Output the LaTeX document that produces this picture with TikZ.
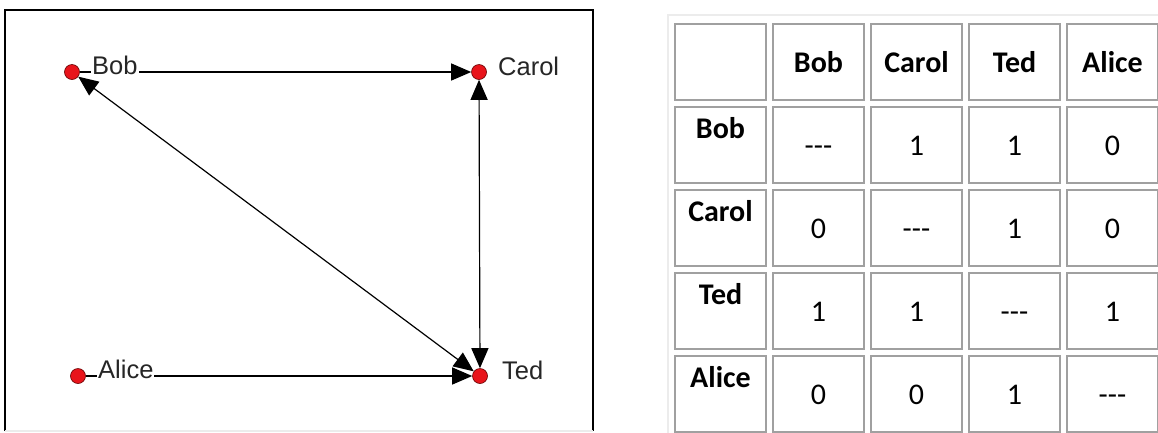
\documentclass[tikz,border=0pt]{standalone}
\usepackage{fontspec}
\setmainfont{Carlito}
\newfontfamily\arialfont{Liberation Sans}
\usetikzlibrary{arrows.meta}
\definecolor{dotred}{HTML}{E8141B}
\definecolor{cellgray}{HTML}{A0A0A0}
\definecolor{lightgray}{HTML}{ECECEC}
\begin{document}
\begin{tikzpicture}[x=1pt,y=-1pt,
  dot/.style={circle,fill=dotred,draw=black!60!red,line width=0.6pt,minimum size=15pt,inner sep=0pt},
  lbl/.style={anchor=base west,fill=white,inner sep=1pt,text=black!85,font=\arialfont\fontsize{25.5}{28}\selectfont},
  edge/.style={line width=1.2pt,-{Triangle[length=20pt,width=17pt]}},
  bedge/.style={line width=1.2pt,{Triangle[length=20pt,width=17pt]}-{Triangle[length=20pt,width=17pt]}},
  cell/.style={draw=cellgray,line width=2pt,minimum width=91pt,minimum height=76pt,inner sep=0pt,anchor=north west},
  hdr/.style={font=\bfseries\fontsize{30}{34}\selectfont},
  val/.style={font=\fontsize{30}{34}\selectfont}
]
\useasboundingbox (0,0) rectangle (1158,432);
\fill[white] (0,0) rectangle (1158,432);
% left frame
\draw[black,line width=2pt] (5,431) -- (5,10) -- (593,10) -- (593,431);
\draw[lightgray,line width=1.5pt] (5,431) -- (593,431);
% graph nodes
\node[dot] (bob) at (72,72) {};
\node[dot] (carol) at (479,72) {};
\node[dot] (alice) at (78,376) {};
\node[dot] (ted) at (480,376) {};
% edges
\draw[edge] (bob) -- (carol);
\draw[bedge] (carol) -- (ted);
\draw[bedge] (bob) -- (ted);
\draw[edge] (alice) -- (ted);
% labels
\node[lbl] (lbob) at (91,74) {Bob};
\node[lbl] (lcarol) at (497,75) {Carol};
\node[lbl] (lalice) at (97,378) {Alice};
\node[lbl] (lted) at (501,379) {Ted};
% table outer border
\draw[lightgray,line width=2pt] (668,440) -- (668,15) -- (1170,15);
% table cells
\foreach \r in {0,...,4}{
  \foreach \c in {0,...,4}{
    \node[cell] (c\r\c) at ({674+98*\c},{23+83*\r}) {};
  }
}
% column headers
\node[hdr] (h1) at (c01.center) {Bob};
\node[hdr] (h2) at (c02.center) {Carol};
\node[hdr] (h3) at (c03.center) {Ted};
\node[hdr] (h4) at (c04.center) {Alice};
% row headers
\node[hdr,anchor=base] (r1) at ([yshift=-32pt]c10.north) {Bob};
\node[hdr,anchor=base] (r2) at ([yshift=-32pt]c20.north) {Carol};
\node[hdr,anchor=base] (r3) at ([yshift=-32pt]c30.north) {Ted};
\node[hdr,anchor=base] (r4) at ([yshift=-32pt]c40.north) {Alice};
% values
\foreach \r/\a/\b/\cc/\d in {1/-{}-{}-/1/1/0, 2/0/-{}-{}-/1/0, 3/1/1/-{}-{}-/1, 4/0/0/1/-{}-{}-}{
  \node[val,anchor=base] (v\r1) at ([yshift=-49pt]c\r1.north) {\a};
  \node[val,anchor=base] (v\r2) at ([yshift=-49pt]c\r2.north) {\b};
  \node[val,anchor=base] (v\r3) at ([yshift=-49pt]c\r3.north) {\cc};
  \node[val,anchor=base] (v\r4) at ([yshift=-49pt]c\r4.north) {\d};
}
\end{tikzpicture}
\end{document}
